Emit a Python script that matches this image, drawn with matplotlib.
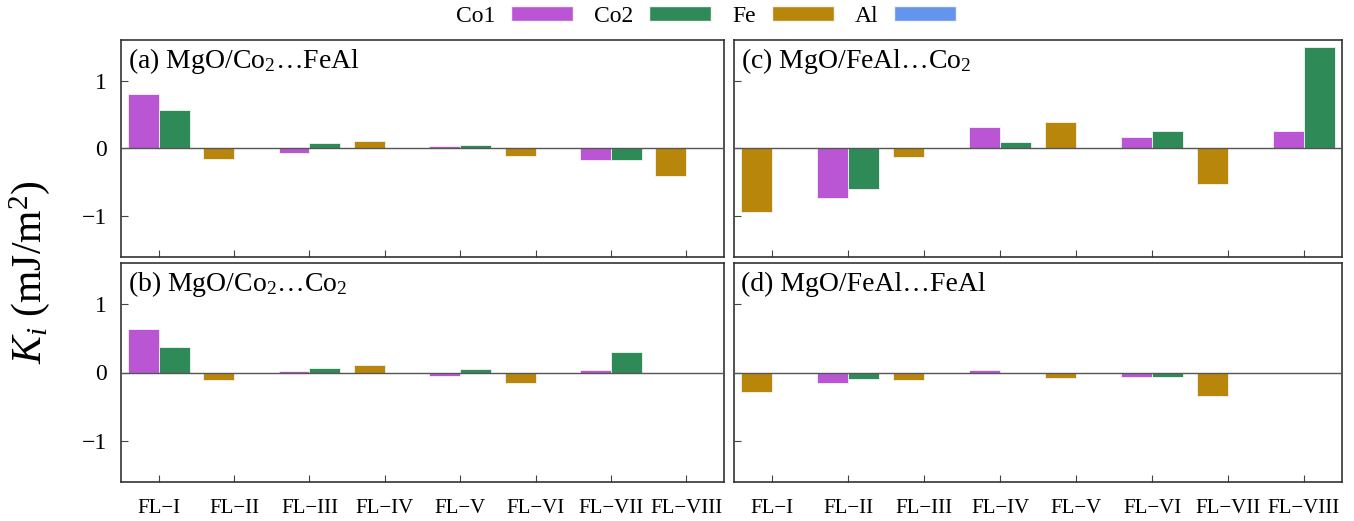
import matplotlib
matplotlib.use("Agg")
import matplotlib.pyplot as plt
import numpy as np
from matplotlib.patches import Patch

plt.rcParams['font.family'] = ['Liberation Serif', 'DejaVu Serif']
plt.rcParams['mathtext.fontset'] = 'custom'
plt.rcParams['mathtext.rm'] = 'Liberation Serif'
plt.rcParams['mathtext.it'] = 'Liberation Serif:italic'

layers = ["FL\u2212I", "FL\u2212II", "FL\u2212III", "FL\u2212IV",
          "FL\u2212V", "FL\u2212VI", "FL\u2212VII", "FL\u2212VIII"]
species = ["Co1", "Co2", "Fe", "Al"]
colors = ["#BA55D3", "#2E8B57", "#B8860B", "#6495ED"]

titles = [r"(a) MgO/Co$_2$…FeAl", r"(c) MgO/FeAl…Co$_2$",
          r"(b) MgO/Co$_2$…Co$_2$", r"(d) MgO/FeAl…FeAl"]

# panel (a) MgO/Co2...FeAl
a_co1 = [0.81, 0, -0.07, 0, 0.03, 0, -0.165, 0]
a_co2 = [0.57, 0, 0.078, 0, 0.05, 0, -0.175, 0]
a_fe = [0, -0.155, 0, 0.107, 0, -0.105, 0, -0.40]
a_al = [0, 0, 0, 0, 0, 0, 0, 0.008]

# panel (c) MgO/FeAl...Co2
c_co1 = [0, -0.73, 0, 0.32, 0, 0.17, 0, 0.26]
c_co2 = [0, -0.60, 0, 0.10, 0, 0.265, 0, 1.50]
c_fe = [-0.94, 0, -0.13, 0, 0.39, 0, -0.53, 0]
c_al = [0.008, 0, 0, 0, 0, 0, 0, 0]

# panel (b) MgO/Co2...Co2
b_co1 = [0.63, 0, 0.02, 0, -0.05, 0, 0.035, 0]
b_co2 = [0.37, 0, 0.06, 0, 0.05, 0, 0.30, 0]
b_fe = [0, -0.11, 0, 0.11, 0, -0.16, 0, 0]
b_al = [0, 0, 0, 0, 0, 0, 0, 0]

# panel (d) MgO/FeAl...FeAl
d_co1 = [0, -0.16, 0, 0.03, 0, -0.06, 0, 0]
d_co2 = [0, -0.10, 0, 0, 0, -0.07, 0, 0]
d_fe = [-0.285, 0, -0.11, 0, -0.08, 0, -0.34, 0]
d_al = [0, 0, 0, 0, 0, 0, 0, 0]

panels = [
    (a_co1, a_co2, a_fe, a_al),
    (c_co1, c_co2, c_fe, c_al),
    (b_co1, b_co2, b_fe, b_al),
    (d_co1, d_co2, d_fe, d_al),
]

W, H = 1354, 521
fig = plt.figure(figsize=(W / 100, H / 100), dpi=100)

lefts = [121, 734, 121, 734]
rights = [724, 1342, 724, 1342]
tops = [40, 40, 263, 263]
bottoms = [257, 257, 482, 482]

x = np.arange(len(layers))
bw = 0.41
axes = []
for i, (vals, title) in enumerate(zip(panels, titles)):
    l, r, t, b = lefts[i], rights[i], tops[i], bottoms[i]
    ax = fig.add_axes([l / W, 1 - b / H, (r - l) / W, (b - t) / H])
    axes.append(ax)
    co1, co2, fe, al = vals
    offsets = [-bw / 2, bw / 2, -bw / 2, bw / 2]
    for v, off, col in zip((co1, co2, fe, al), offsets, colors):
        v = np.asarray(v, dtype=float)
        m = v != 0
        ax.bar(x[m] + off, v[m], bw, color=col, edgecolor="#f4f4f4",
               linewidth=0.6, zorder=2)
    ax.axhline(0, color="#555555", lw=1.0, zorder=3)
    ax.set_xlim(-0.5, 7.5)
    ax.set_ylim(-1.6, 1.6)
    ax.set_yticks([-1, 0, 1])
    ax.set_yticklabels(["\u22121", "0", "1"])
    ax.set_xticks(x)
    if i >= 2:
        ax.set_xticklabels(layers, fontsize=15)
    else:
        ax.set_xticklabels([])
    if i % 2 == 1:
        ax.set_yticklabels([])
    ax.tick_params(axis="both", direction="in", length=5, width=0.8,
                   labelsize=17, top=False, right=False, color="#444444")
    ax.tick_params(axis="x", pad=12, labelsize=15)
    ax.tick_params(axis="y", pad=10)
    for s in ax.spines.values():
        s.set_linewidth(1.2)
        s.set_color("#333333")
    hpx = b - t
    ax.text(0.012, 1 - 28 / hpx, title, transform=ax.transAxes, fontsize=20,
            va="baseline", ha="left")

fig.text(30 / W, 1 - 272 / H, r"$K_i$ (mJ/m$^2$)", rotation=90, fontsize=30,
         va="center", ha="center")

handles = [Patch(facecolor=c, edgecolor="#f4f4f4") for c in colors]
fig.legend(handles, species, loc="center", bbox_to_anchor=(706 / W, 1 - 16.5 / H),
           ncol=4, frameon=False, markerfirst=False, fontsize=17,
           handlelength=2.63, handleheight=0.6, columnspacing=0.9,
           handletextpad=0.66, borderpad=0.2)

fig.savefig("out.png", dpi=100)
